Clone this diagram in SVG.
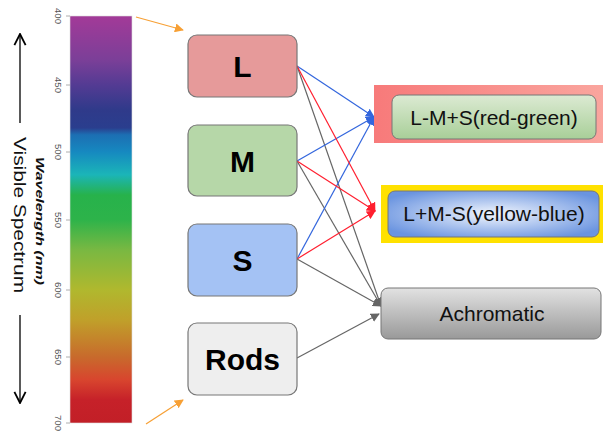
<svg xmlns="http://www.w3.org/2000/svg" width="603" height="435" viewBox="0 0 603 435">
<defs>
<linearGradient id="spec" x1="0" y1="0" x2="0" y2="1">
<stop offset="0" stop-color="#a33a98"/>
<stop offset="0.108" stop-color="#7b3f98"/>
<stop offset="0.17" stop-color="#533b93"/>
<stop offset="0.231" stop-color="#2f3a8a"/>
<stop offset="0.275" stop-color="#2a3e8e"/>
<stop offset="0.292" stop-color="#1c6fb3"/>
<stop offset="0.334" stop-color="#1689c0"/>
<stop offset="0.39" stop-color="#1bb5b8"/>
<stop offset="0.44" stop-color="#27b24b"/>
<stop offset="0.50" stop-color="#2db34a"/>
<stop offset="0.575" stop-color="#79b842"/>
<stop offset="0.673" stop-color="#b0b82e"/>
<stop offset="0.747" stop-color="#c0a02a"/>
<stop offset="0.838" stop-color="#c86a2c"/>
<stop offset="0.894" stop-color="#d8452e"/>
<stop offset="0.943" stop-color="#c62129"/>
<stop offset="1" stop-color="#c21f27"/>
</linearGradient>
<linearGradient id="pinkbg" x1="0" y1="0" x2="1" y2="0">
<stop offset="0" stop-color="#f77a7a"/>
<stop offset="1" stop-color="#faa59e"/>
</linearGradient>
<linearGradient id="greenbox" x1="0" y1="0" x2="0" y2="1">
<stop offset="0" stop-color="#dcead3"/>
<stop offset="1" stop-color="#a8cf98"/>
</linearGradient>
<radialGradient id="bluebox" cx="0.5" cy="0.5" r="0.6">
<stop offset="0" stop-color="#f2f6fd"/>
<stop offset="1" stop-color="#6a94e0"/>
</radialGradient>
<linearGradient id="graybox" x1="0" y1="0" x2="0" y2="1">
<stop offset="0" stop-color="#e2e2e2"/>
<stop offset="1" stop-color="#999999"/>
</linearGradient>
<marker id="ab" viewBox="0 0 10 10" refX="9" refY="5" markerWidth="9" markerHeight="9" markerUnits="userSpaceOnUse" orient="auto"><path d="M0,0 L10,5 L0,10 z" fill="#3366dd"/></marker>
<marker id="ar" viewBox="0 0 10 10" refX="9" refY="5" markerWidth="9" markerHeight="9" markerUnits="userSpaceOnUse" orient="auto"><path d="M0,0 L10,5 L0,10 z" fill="#ff1f2f"/></marker>
<marker id="ag" viewBox="0 0 10 10" refX="9" refY="5" markerWidth="9" markerHeight="9" markerUnits="userSpaceOnUse" orient="auto"><path d="M0,0 L10,5 L0,10 z" fill="#666666"/></marker>
<marker id="ao" viewBox="0 0 10 10" refX="9" refY="5" markerWidth="9" markerHeight="9" markerUnits="userSpaceOnUse" orient="auto"><path d="M0,0 L10,5 L0,10 z" fill="#f7a035"/></marker>
<marker id="ak" viewBox="0 0 10 10" refX="9" refY="5" markerWidth="14" markerHeight="14" markerUnits="userSpaceOnUse" orient="auto"><path d="M1,1 L9,5 L1,9" fill="none" stroke="#000" stroke-width="1.3"/></marker>
</defs>
<style>
text{font-family:"Liberation Sans",Arial,sans-serif}
.cone{stroke:#777;stroke-width:1.2}
.lbl{font-size:30px;font-weight:bold;fill:#000;text-anchor:middle}
.out{font-size:21px;fill:#111;text-anchor:middle}
.tick{font-size:9px;fill:#555;text-anchor:middle}
.cb{stroke:#3366dd;stroke-width:1.2;fill:none;marker-end:url(#ab)}
.cr{stroke:#ff1f2f;stroke-width:1.2;fill:none;marker-end:url(#ar)}
.cg{stroke:#666;stroke-width:1.2;fill:none;marker-end:url(#ag)}
.co{stroke:#f7a035;stroke-width:1.2;fill:none;marker-end:url(#ao)}
</style>
<rect width="603" height="435" fill="#ffffff"/>

<g id="spectrum">
<rect x="70" y="16" width="62" height="407" fill="url(#spec)" stroke="#ddd" stroke-width="0.6"/>
<g stroke="#999" stroke-width="0.8">
<line x1="66" y1="16" x2="70" y2="16"/>
<line x1="66" y1="85" x2="70" y2="85"/>
<line x1="66" y1="152" x2="70" y2="152"/>
<line x1="66" y1="220" x2="70" y2="220"/>
<line x1="66" y1="290" x2="70" y2="290"/>
<line x1="66" y1="357" x2="70" y2="357"/>
<line x1="66" y1="423" x2="70" y2="423"/>
</g>
<g class="tick">
<text transform="translate(58,16) rotate(90)" dy="3" textLength="16" lengthAdjust="spacingAndGlyphs">400</text>
<text transform="translate(58,85) rotate(90)" dy="3" textLength="16" lengthAdjust="spacingAndGlyphs">450</text>
<text transform="translate(58,152) rotate(90)" dy="3" textLength="16" lengthAdjust="spacingAndGlyphs">500</text>
<text transform="translate(58,220) rotate(90)" dy="3" textLength="16" lengthAdjust="spacingAndGlyphs">550</text>
<text transform="translate(58,290) rotate(90)" dy="3" textLength="16" lengthAdjust="spacingAndGlyphs">600</text>
<text transform="translate(58,357) rotate(90)" dy="3" textLength="16" lengthAdjust="spacingAndGlyphs">650</text>
<text transform="translate(58,423) rotate(90)" dy="3" textLength="16" lengthAdjust="spacingAndGlyphs">700</text>
</g>
<text transform="translate(40,221) rotate(90)" dy="4" font-size="11" font-weight="bold" font-style="italic" text-anchor="middle" fill="#111" textLength="128" lengthAdjust="spacingAndGlyphs">Wavelength (nm)</text>
<text transform="translate(20,215) rotate(90)" dy="6" font-size="16" text-anchor="middle" fill="#111" textLength="156" lengthAdjust="spacingAndGlyphs">Visible Spectrum</text>
<line x1="20" y1="123" x2="20" y2="34" stroke="#000" stroke-width="1.3" marker-end="url(#ak)"/>
<line x1="20" y1="315" x2="20" y2="403" stroke="#000" stroke-width="1.3" marker-end="url(#ak)"/>
</g>

<g id="connectors">
<line class="co" x1="136" y1="17" x2="183" y2="30"/>
<line class="co" x1="146" y1="424" x2="183" y2="400"/>
<line class="cg" x1="297" y1="66" x2="381" y2="306"/>
<line class="cg" x1="297" y1="161" x2="381" y2="306"/>
<line class="cg" x1="297" y1="259" x2="381" y2="306"/>
<line class="cg" x1="297" y1="358" x2="379" y2="314"/>
<line class="cb" x1="297" y1="66" x2="374" y2="117"/>
<line class="cb" x1="297" y1="161" x2="374" y2="117"/>
<line class="cb" x1="297" y1="259" x2="374" y2="117"/>
<line class="cr" x1="297" y1="66" x2="375" y2="211"/>
<line class="cr" x1="297" y1="161" x2="375" y2="211"/>
<line class="cr" x1="297" y1="259" x2="375" y2="211"/>
</g>

<g id="L">
<rect class="cone" x="188" y="35" width="109" height="62" rx="9" fill="#e69a9a"/>
<text class="lbl" x="242.5" y="77">L</text>
</g>
<g id="M">
<rect class="cone" x="188" y="125" width="109" height="71" rx="9" fill="#b6d7a8"/>
<text class="lbl" x="242.5" y="172">M</text>
</g>
<g id="S">
<rect class="cone" x="188" y="224" width="109" height="72" rx="9" fill="#a4c2f4"/>
<text class="lbl" x="242.5" y="271">S</text>
</g>
<g id="Rods">
<rect class="cone" x="188" y="323" width="109" height="72" rx="9" fill="#eeeeee"/>
<text class="lbl" x="242.5" y="370">Rods</text>
</g>

<g id="redgreen">
<rect x="374" y="85" width="229" height="58" fill="url(#pinkbg)"/>
<rect x="392" y="95" width="204" height="44" rx="7" fill="url(#greenbox)" stroke="#777" stroke-width="1"/>
<text class="out" x="494" y="125">L-M+S(red-green)</text>
</g>
<g id="yellowblue">
<rect x="381" y="185" width="222" height="58" fill="#ffe100"/>
<rect x="388" y="191" width="211" height="46" rx="7" fill="url(#bluebox)" stroke="#777" stroke-width="1"/>
<text class="out" x="494" y="221">L+M-S(yellow-blue)</text>
</g>
<g id="achromatic">
<rect x="381" y="288" width="220" height="51" rx="7" fill="url(#graybox)" stroke="#777" stroke-width="1"/>
<text class="out" x="492" y="321">Achromatic</text>
</g>
</svg>
